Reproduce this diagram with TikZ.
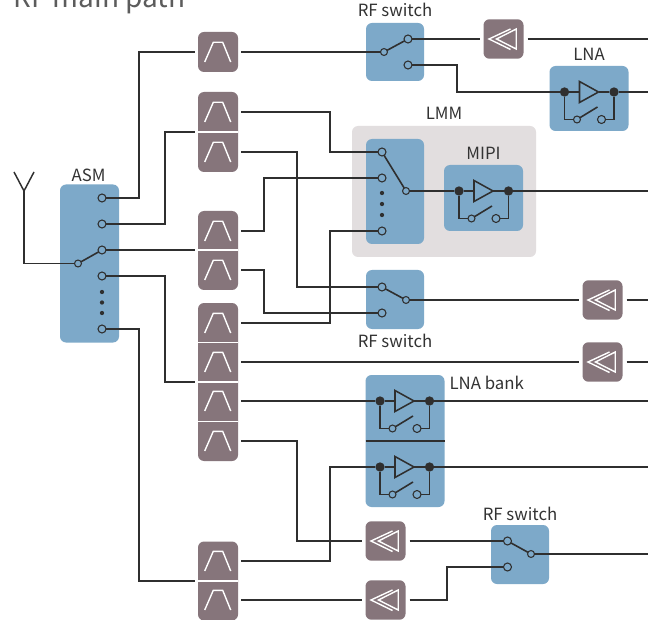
\documentclass[tikz,border=0pt]{standalone}
\usepackage{fontspec}
\setmainfont{Noto Sans CJK SC}
\usetikzlibrary{calc}
\definecolor{bluebox}{HTML}{7DA9C9}
\definecolor{taupe}{HTML}{86757B}
\definecolor{lmmgrey}{HTML}{E2DEDF}
\definecolor{wirec}{HTML}{2F2F2F}
\definecolor{labelc}{HTML}{333333}
\tikzset{
  wire/.style={draw=wirec,line width=0.85pt,line join=miter},
  boxb/.style={fill=bluebox,rounded corners=4.5pt,inner sep=0pt,outer sep=0pt,draw=none},
  stack/.style={fill=taupe,rounded corners=4.5pt,inner sep=0pt,outer sep=0pt,draw=none},
  cell/.style={inner sep=0pt,outer sep=2.25pt,minimum width=30pt,minimum height=29.6pt,draw=none},
  glyph/.style={draw=white,line width=1.05pt,line join=miter},
  divider/.style={draw=white,line width=0.9pt},
  port/.style={circle,draw=wirec,fill=bluebox,line width=0.8pt,minimum size=6pt,inner sep=0pt,outer sep=0pt},
  pivot/.style={circle,draw=wirec,fill=bluebox,line width=0.8pt,minimum size=5.2pt,inner sep=0pt,outer sep=0pt},
  pt/.style={circle,fill=wirec,minimum size=3.2pt,inner sep=0pt,outer sep=0pt},
  junct/.style={circle,fill=wirec,minimum size=7pt,inner sep=0pt,outer sep=0pt},
  arm/.style={draw=wirec,line width=1.2pt},
  amptri/.style={draw=wirec,line width=1.15pt,fill=none,line join=miter},
  lab/.style={text=labelc,font=\fontsize{12.6pt}{13pt}\selectfont,inner sep=0pt,outer sep=0pt},
  lnaunit/.pic={
    \node[junct] (-in) at (0,0) {};
    \node[junct] (-out) at (49.5,0) {};
    \node[pivot] (-a) at (12.5,27.5) {};
    \node[port] (-b) at (37,27.5) {};
    \coordinate (-free) at (33,15);
    \draw[wire] (-in) |- (-a);
    \draw[wire] (-b) -| (-out);
    \draw[arm] (-a) -- (-free);
    \draw[wire] (-in) -- (15,0);
    \draw[wire] (34,0) -- (-out);
    \draw[amptri] (15,-10.5) -- (15,10.5) -- (34,0) -- cycle;
  }
}
\newcommand{\filt}[3]{%
  \node[cell] (#1) at (#2,#3) {};
  \draw[glyph] ($(#2,#3)+(-13.3,10)$) -- ($(#2,#3)+(-4.7,-9.7)$) -- ($(#2,#3)+(4.7,-9.7)$) -- ($(#2,#3)+(12.7,10)$);}
\newcommand{\amp}[3]{%
  \node[stack,minimum width=30pt,minimum height=29.6pt,outer sep=3pt] (#1) at (#2,#3) {};
  \draw[draw=white,line width=1.05pt,line join=miter] ($(#2,#3)+(7,-10)$) -- ($(#2,#3)+(-14.5,0)$) -- ($(#2,#3)+(7,10.5)$);
  \draw[draw=white,line width=1.05pt,line join=miter] ($(#2,#3)+(-7,0)$) -- ($(#2,#3)+(12.7,-10)$) -- ($(#2,#3)+(12.7,10)$) -- cycle;}
\begin{document}
\begin{tikzpicture}[x=0.75pt,y=-0.75pt]
\clip (0,0) rectangle (653,620);
\fill[white] (0,0) rectangle (653,620);
% title
\node[anchor=base west,text=labelc!80,font=\fontsize{21pt}{23pt}\selectfont,inner sep=0pt] (title) at (13,8) {RF main path};
% grey module
\node[fill=lmmgrey,rounded corners=4.5pt,minimum width=138pt,minimum height=98.25pt,inner sep=0pt,outer sep=0pt] (lmm) at (444,191.5) {};
% blue boxes
\node[boxb,minimum width=44.25pt,minimum height=118.5pt] (asm) at (89.5,263.5) {};
\node[boxb,minimum width=43.5pt,minimum height=43.5pt] (sw1) at (395,52) {};
\node[boxb,minimum width=59.25pt,minimum height=48.75pt] (lnab) at (589,98.5) {};
\node[boxb,minimum width=43.5pt,minimum height=78.75pt] (lmsw) at (395,191.5) {};
\node[boxb,minimum width=59.25pt,minimum height=49.5pt] (mipi) at (483.5,198) {};
\node[boxb,minimum width=43.5pt,minimum height=44.25pt] (sw2) at (395,299.5) {};
\node[boxb,minimum width=59.25pt,minimum height=99pt] (bank) at (405,441) {};
\node[boxb,minimum width=43.5pt,minimum height=44.25pt] (sw3) at (520,554.5) {};
\draw[wirec,line width=0.85pt] (bank.west |- 0,441) -- (bank.east |- 0,441);
% filter stacks
\node[stack,minimum width=30pt,minimum height=30pt] (s1) at (218,52) {};
\node[stack,minimum width=30pt,minimum height=60pt] (s2) at (218,132) {};
\node[stack,minimum width=30pt,minimum height=59.25pt] (s3) at (218,250.5) {};
\node[stack,minimum width=30pt,minimum height=118.5pt] (s4) at (218,382) {};
\node[stack,minimum width=30pt,minimum height=59.25pt] (s5) at (218,581) {};
\draw[divider] (s2.west |- 0,132) -- (s2.east |- 0,132);
\draw[divider] (s3.west |- 0,250) -- (s3.east |- 0,250);
\draw[divider] (s4.west |- 0,342.5) -- (s4.east |- 0,342.5);
\draw[divider] (s4.west |- 0,382) -- (s4.east |- 0,382);
\draw[divider] (s4.west |- 0,421.5) -- (s4.east |- 0,421.5);
\draw[divider] (s5.west |- 0,581) -- (s5.east |- 0,581);
\filt{f1}{218}{52}
\filt{f2}{218}{112}
\filt{f3}{218}{152}
\filt{f4}{218}{231}
\filt{f5}{218}{270}
\filt{f6}{218}{323}
\filt{f7}{218}{362}
\filt{f8}{218}{401}
\filt{f9}{218}{441}
\filt{f10}{218}{561}
\filt{f11}{218}{600}
% amplifiers
\amp{a1}{503.5}{39}
\amp{a2}{602.5}{300}
\amp{a3}{602.5}{362}
\amp{a4}{385.5}{541}
\amp{a5}{385.5}{600}
% labels
\node[lab] (lasm) at (88.5,175) {ASM};
\node[lab] (lsw1) at (395,9.5) {RF switch};
\node[lab] (llna) at (589,54) {LNA};
\node[lab] (llmm) at (444,113) {LMM};
\node[lab] (lmipi) at (483.5,153.5) {MIPI};
\node[lab] (lsw2) at (395,341) {RF switch};
\node[lab,anchor=west] (lbank) at (449.5,383) {LNA bank};
\node[lab] (lsw3) at (520,514) {RF switch};
% asm ports
\node[port] (q1) at (102,198) {};
\node[port] (q2) at (102,224) {};
\node[port] (q3) at (102,250) {};
\node[port] (q4) at (102,276) {};
\node[pt] (qd1) at (102,292) {};
\node[pt] (qd2) at (102,302.5) {};
\node[pt] (qd3) at (102,313) {};
\node[port] (q5) at (102,329) {};
\node[pivot] (qp) at (78,263.5) {};
\draw[arm] (qp) -- (q3);
% antenna
\coordinate (anttop) at (24,191);
\coordinate (antl) at (14,172);
\coordinate (antr) at (34,172);
\draw[wirec,line width=1.1pt,line join=miter] (antl) -- (anttop) -- (antr);
\draw[wire] (anttop) |- (qp);
% helper x positions
\coordinate (x139) at (139,0);
\coordinate (x165) at (165,0);
\coordinate (x264) at (264,0);
\coordinate (x297) at (297,0);
\coordinate (x330) at (330,0);
\coordinate (x457) at (457,0);
\coordinate (x447) at (447,0);
% right edge
\coordinate (e1) at (648,39);
\coordinate (e2) at (648,92);
\coordinate (e3) at (648,191);
\coordinate (e4) at (648,300);
\coordinate (e5) at (648,362);
\coordinate (e6) at (648,401);
\coordinate (e7) at (648,467);
\coordinate (e8) at (648,554);
% left side wires
\draw[wire] (q1) -| (x139 |- f1) -- (f1.west);
\draw[wire] (q2) -| (x165 |- 0,132) -- (195,132);
\draw[wire] (q3) -- (195,250);
\draw[wire] (q4) -| (x165 |- 0,382) -- (195,382);
\draw[wire] (q5) -| (x139 |- 0,581) -- (195,581);
% switch 1
\node[pivot] (p1) at (384,52) {};
\node[port] (p1a) at (408,39) {};
\node[port] (p1b) at (408,65) {};
\draw[arm] (p1) -- (p1a);
\draw[wire] (f1.east) -- (p1);
\draw[wire] (p1a) -- (a1.west);
\draw[wire] (a1.east) -- (e1);
% LNA
\pic (ln) at (564.5,92) {lnaunit};
\draw[wire] (p1b) -| (x457 |- ln-in) -- (ln-in);
\draw[wire] (ln-out) -- (e2);
% LMM switch
\node[port] (m1) at (382,152) {};
\node[port] (m2) at (382,178) {};
\node[pt] (md1) at (382,193) {};
\node[pt] (md2) at (382,204) {};
\node[pt] (md3) at (382,215) {};
\node[port] (m3) at (382,231) {};
\node[pivot] (mp) at (406,191) {};
\draw[arm] (m1) -- (mp);
\pic (mi) at (459,191) {lnaunit};
\draw[wire] (mp) -- (mi-in);
\draw[wire] (mi-out) -- (e3);
\draw[wire] (f2.east) -| (x330 |- m1) -- (m1);
\draw[wire] (f4.east) -| (x264 |- m2) -- (m2);
\draw[wire] (f6.east) -| (x330 |- m3) -- (m3);
% switch 2
\node[port] (r1) at (382,287) {};
\node[port] (r2) at (382,313) {};
\node[pivot] (rp) at (406,300) {};
\draw[arm] (r1) -- (rp);
\draw[wire] (f3.east) -| (x297 |- r1) -- (r1);
\draw[wire] (f5.east) -| (x264 |- r2) -- (r2);
\draw[wire] (rp) -- (a2.west);
\draw[wire] (a2.east) -- (e4);
% direct
\draw[wire] (f7.east) -- (a3.west);
\draw[wire] (a3.east) -- (e5);
% LNA bank
\pic (b1) at (380,401) {lnaunit};
\pic (b2) at (380,467) {lnaunit};
\draw[wire] (f8.east) -- (b1-in);
\draw[wire] (b1-out) -- (e6);
\draw[wire] (f10.east) -| (x330 |- b2-in) -- (b2-in);
\draw[wire] (b2-out) -- (e7);
% switch 3
\node[port] (t1) at (507.5,541) {};
\node[port] (t2) at (507.5,567) {};
\node[pivot] (tp) at (531,554) {};
\draw[arm] (t1) -- (tp);
\draw[wire] (f9.east) -| (x297 |- a4) -- (a4.west);
\draw[wire] (a4.east) -- (t1);
\draw[wire] (f11.east) -- (a5.west);
\draw[wire] (a5.east) -| (x447 |- t2) -- (t2);
\draw[wire] (tp) -- (e8);
\end{tikzpicture}
\end{document}
